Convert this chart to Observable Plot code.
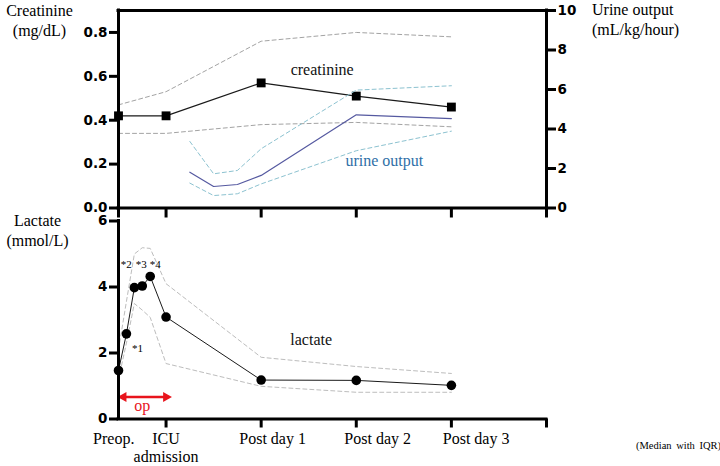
<!DOCTYPE html>
<html>
<head>
<meta charset="utf-8">
<script src="https://cdn.jsdelivr.net/npm/d3@7"></script>
<script src="https://cdn.jsdelivr.net/npm/@observablehq/plot@0.6"></script>
<style>
  body { margin: 0; background: #fff; }
  #chart { position: relative; width: 720px; height: 466px; overflow: hidden; }
  #chart svg { position: absolute; left: 0; top: 0; }
  .ttl { position: absolute; font-family: "Liberation Serif", Tinos, "DejaVu Serif", "Noto Serif", serif; font-size: 16px; line-height: 20px; color: #000; white-space: nowrap; }
</style>
</head>
<body>
<div id="chart">
  <div class="ttl" style="left:0;top:1px;width:79px;text-align:center">Creatinine<br>(mg/dL)</div>
  <div class="ttl" style="left:592px;top:0;text-align:left">Urine output<br>(mL/kg/hour)</div>
  <div class="ttl" style="left:0;top:211px;width:75px;text-align:center">Lactate<br>(mmol/L)</div>
  <div class="ttl" style="left:636px;top:436px;font-size:10.5px;word-spacing:2px">(Median with IQR)</div>
</div>
<script>
// ---- data (time axis units: Preop.=0, ICU admission=1, Post day 1=3, Post day 2=5, Post day 3=7) ----
const timeLabels = ["Preop.", "ICU\nadmission", "Post day 1", "Post day 2", "Post day 3"];
const timeX = [0, 1, 3, 5, 7];
const timeLabelX = [-0.1, 1, 3.24, 5.45, 7.52];
const xTicksTop = [0, 1, 3, 5, 7, 9];
const xTicksBottom = [1, 3, 5, 7, 9];

const creatTicks = [0, 0.2, 0.4, 0.6, 0.8];
const creatMedian = [0.42, 0.42, 0.57, 0.51, 0.46];
const creatQ1 = [0.34, 0.34, 0.38, 0.39, 0.37];
const creatQ3 = [0.47, 0.53, 0.76, 0.80, 0.78];

const urineTicks = [0, 2, 4, 6, 8, 10];
const urineX = [1.5, 2, 2.5, 3, 5, 7];
const urineMedian = [1.81, 1.09, 1.19, 1.65, 4.72, 4.53];
const urineQ1 = [1.26, 0.63, 0.72, 1.22, 2.9, 3.89];
const urineQ3 = [3.37, 1.73, 1.9, 3.0, 5.97, 6.19];

const lactateTicks = [0, 2, 4, 6];
const lactateX = [0, 1/6, 2/6, 3/6, 4/6, 1, 3, 5, 7];
const lactateMedian = [1.47, 2.58, 3.98, 4.03, 4.32, 3.09, 1.18, 1.17, 1.02];
const lactateQ1 = [1.2, 2.3, 3.5, 3.3, 3.08, 1.68, 0.99, 0.81, 0.81];
const lactateQ3 = [2.1, 3.56, 5.0, 5.19, 5.17, 4.1, 1.87, 1.59, 1.38];
const noteLabels = ["*1", "*2", "*3", "*4"];
const noteIndex = [1, 2, 3, 4];
const opStart = 0, opEnd = 1;

// ---- styles ----
const serif = "'Liberation Serif', Tinos, 'DejaVu Serif', 'Noto Serif', serif";
const sans = "'DejaVu Sans', sans-serif";
const axisStyle = {fontFamily: sans, fontSize: "13.5px", fontWeight: "bold", background: "transparent", overflow: "visible", color: "#000"};
const common = {width: 720, height: 466, marginLeft: 118, marginRight: 174, x: {domain: [0, 9], label: null}};
const greyDash = {stroke: "#a3a3a3", strokeWidth: 1, strokeDasharray: "4,3"};
const blueDash = {stroke: "#8cc2d0", strokeWidth: 1, strokeDasharray: "4,3"};
const lblText = {fontFamily: serif, fontSize: 16, fontWeight: "normal"};
const heavy = {strokeWidth: 3, strokeLinecap: "square", stroke: "#000"};

const chart = document.getElementById("chart");

// ---- top panel: creatinine (left axis) ----
const creat = Plot.plot({
  ...common, marginTop: 10, marginBottom: 258.5,
  style: axisStyle,
  y: {domain: [0, 0.9], label: null},
  marks: [
    Plot.line(creatQ3, {x: timeX, y: creatQ3, ...greyDash}),
    Plot.line(creatQ1, {x: timeX, y: creatQ1, ...greyDash}),
    Plot.line(creatMedian, {x: timeX, y: creatMedian, stroke: "#1a1a1a", strokeWidth: 1.2}),
    Plot.dot(creatMedian, {x: timeX, y: creatMedian, symbol: "square", r: 5, fill: "#000", stroke: "none"}),
    Plot.text(["creatinine"], {x: [timeX[2]], y: [creatMedian[2]], dx: 61, dy: -13, ...lblText, fill: "#111"}),
    Plot.ruleY([0.9], heavy),
    Plot.ruleY([0], heavy),
    Plot.ruleX([0], heavy),
    Plot.axisY({ticks: creatTicks, tickFormat: d3.format(".1f"), tickSize: 9, tickPadding: 2, strokeWidth: 3}),
    Plot.axisX({ticks: xTicksTop, tickFormat: () => "", tickSize: 10, strokeWidth: 3})
  ]
});

// ---- top panel: urine output (right axis) ----
const urine = Plot.plot({
  ...common, marginTop: 10, marginBottom: 258.5,
  style: axisStyle,
  x: {domain: [0, 9], label: null, axis: null},
  y: {domain: [0, 10], label: null},
  marks: [
    Plot.line(urineQ3, {x: urineX, y: urineQ3, ...blueDash}),
    Plot.line(urineQ1, {x: urineX, y: urineQ1, ...blueDash}),
    Plot.line(urineMedian, {x: urineX, y: urineMedian, stroke: "#5559a0", strokeWidth: 1.2}),
    Plot.text(["urine output"], {x: [urineX[4]], y: [urineMedian[4]], dx: 28, dy: 46, ...lblText, fill: "#2f6fa7"}),
    Plot.ruleX([9], heavy),
    Plot.axisY({anchor: "right", ticks: urineTicks, tickFormat: d3.format("d"), tickSize: 9, tickPadding: 2, strokeWidth: 3})
  ]
});

// ---- bottom panel: lactate ----
const lact = Plot.plot({
  ...common, marginTop: 220.5, marginBottom: 47.5,
  style: axisStyle,
  y: {domain: [0, 6], label: null},
  marks: [
    Plot.line(lactateQ3, {x: lactateX, y: lactateQ3, stroke: "#bdbdbd", strokeWidth: 1, strokeDasharray: "4,3"}),
    Plot.line(lactateQ1, {x: lactateX, y: lactateQ1, stroke: "#bdbdbd", strokeWidth: 1, strokeDasharray: "4,3"}),
    Plot.line(lactateMedian, {x: lactateX, y: lactateMedian, stroke: "#1a1a1a", strokeWidth: 1}),
    Plot.dot(lactateMedian, {x: lactateX, y: lactateMedian, r: 4.8, fill: "#000", stroke: "none"}),
    Plot.text([noteLabels[0]], {x: [lactateX[noteIndex[0]]], y: [lactateMedian[noteIndex[0]]], dx: 11, dy: 15, fontFamily: serif, fontSize: 11, fontWeight: "normal"}),
    Plot.text([noteLabels[1]], {x: [lactateX[noteIndex[1]]], y: [lactateMedian[noteIndex[1]]], dx: -8, dy: -23, fontFamily: serif, fontSize: 11, fontWeight: "normal"}),
    Plot.text([noteLabels[2]], {x: [lactateX[noteIndex[2]]], y: [lactateMedian[noteIndex[2]]], dx: -1, dy: -22, fontFamily: serif, fontSize: 11, fontWeight: "normal"}),
    Plot.text([noteLabels[3]], {x: [lactateX[noteIndex[3]]], y: [lactateMedian[noteIndex[3]]], dx: 5, dy: -12, fontFamily: serif, fontSize: 11, fontWeight: "normal"}),
    Plot.text(["lactate"], {x: [timeX[2]], y: [lactateMedian[6]], dx: 50, dy: -40, ...lblText, fill: "#111"}),
    // op period arrow
    Plot.link([0], {x1: opStart, x2: opEnd, y1: 0, y2: 0, dy: -22, dx: 2, stroke: "#e8141c", strokeWidth: 2.5}),
    Plot.dot([opStart], {x: d => d, y: 0, dy: -22, dx: 5, symbol: "triangle", rotate: -90, r: 3.8, fill: "#e8141c", stroke: "none"}),
    Plot.dot([opEnd], {x: d => d, y: 0, dy: -22, dx: 0, symbol: "triangle", rotate: 90, r: 3.8, fill: "#e8141c", stroke: "none"}),
    Plot.text(["op"], {x: [(opStart + opEnd) / 2], y: [0], dy: -13.5, ...lblText, fill: "#e8141c"}),
    Plot.ruleX([0], heavy),
    Plot.ruleY([0], heavy),
    Plot.axisY({ticks: lactateTicks, tickFormat: d3.format("d"), tickSize: 9, tickPadding: 2, strokeWidth: 3}),
    Plot.axisX({ticks: xTicksBottom, tickFormat: () => "", tickSize: 9, strokeWidth: 3}),
    Plot.text(timeLabels, {x: timeLabelX, y: 0, dy: 12.5, lineAnchor: "top", lineHeight: 1.12, ...lblText, fill: "#000"})
  ]
});

chart.appendChild(creat);
chart.appendChild(urine);
chart.appendChild(lact);
</script>
</body>
</html>
